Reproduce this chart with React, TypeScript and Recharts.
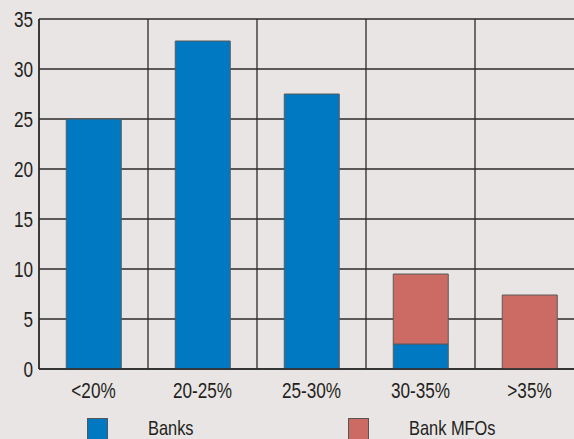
import React from 'react';
import { BarChart, Bar, XAxis, YAxis, CartesianGrid, Legend } from 'recharts';

const categories = ['<20%', '20-25%', '25-30%', '30-35%', '>35%'];
const banks = [25, 32.8, 27.5, 2.5, 0];
const bankMFOs = [0, 0, 0, 7.0, 7.4];
const yTicks = [0, 5, 10, 15, 20, 25, 30, 35];
const seriesNames = ['Banks', 'Bank MFOs'];

const data = categories.map((c, i) => ({ cat: c, banks: banks[i], mfos: bankMFOs[i] }));

const FONT = '"Liberation Sans", Arial, sans-serif';
const TEXT = '#231f20';
const BLUE = '#0079c2';
const RED = '#cc6b64';
const SX = 0.78;

const legendPos = [{ sq: 87, tx: 148 }, { sq: 348, tx: 409 }];

const XTick = (props: any) => {
  const { x, y, payload } = props;
  return (
    <g transform={`translate(${x},${y})`}>
      <text transform={`scale(${SX},1)`} x={0} y={0} dy="0.71em" textAnchor="middle" fill={TEXT} fontSize={22} fontFamily={FONT}>
        {payload.value}
      </text>
    </g>
  );
};

const YTick = (props: any) => {
  const { x, y, payload } = props;
  return (
    <g transform={`translate(${x},${y})`}>
      <text transform={`scale(${SX},1)`} x={0} y={0} dy="0.36em" textAnchor="end" fill={TEXT} fontSize={22} fontFamily={FONT}>
        {payload.value}
      </text>
    </g>
  );
};

const renderLegend = (props: any) => {
  const payload = [...(props.payload || [])].sort(
    (a: any, b: any) => seriesNames.indexOf(a.value) - seriesNames.indexOf(b.value)
  );
  return (
    <div style={{ position: 'relative', height: 20, width: 600 }}>
      {payload.map((p: any, i: number) => (
        <React.Fragment key={i}>
          <div
            style={{
              position: 'absolute',
              left: legendPos[i].sq,
              top: 0,
              width: 19,
              height: 22,
              background: p.color,
              border: '1px solid #555',
            }}
          />
          <div
            style={{
              position: 'absolute',
              left: legendPos[i].tx,
              top: 0,
              height: 20,
              fontFamily: FONT,
              fontSize: 21,
              color: TEXT,
              lineHeight: '20px',
              whiteSpace: 'nowrap',
              transform: `scaleX(${SX})`,
              transformOrigin: 'left center',
            }}
          >
            {p.value}
          </div>
        </React.Fragment>
      ))}
    </div>
  );
};

export default function App() {
  return (
    <div style={{ position: 'fixed', left: 0, top: 0, width: 574, height: 439, overflow: 'hidden', background: '#e9e5e4' }}>
      <BarChart
        width={600}
        height={439}
        data={data}
        margin={{ top: 19, right: 16, left: 0, bottom: 0 }}
        barCategoryGap="25%"
      >
        <CartesianGrid
          stroke="#2a2a2a"
          strokeWidth={1.3}
          verticalCoordinatesGenerator={({ offset }: any) =>
            categories.map((_, i) => offset.left + (i * offset.width) / categories.length).concat([offset.left + offset.width])
          }
        />
        <XAxis
          dataKey="cat"
          tickLine={false}
          tickSize={9}
          tickMargin={4}
          height={50}
          axisLine={{ stroke: '#2a2a2a', strokeWidth: 1.5 }}
          tick={<XTick />}
        />
        <YAxis
          width={39}
          domain={[0, 35]}
          ticks={yTicks}
          interval={0}
          tickLine={false}
          tickSize={4}
          tickMargin={2}
          axisLine={{ stroke: '#2a2a2a', strokeWidth: 1.5 }}
          tick={<YTick />}
        />
        <Legend
          content={renderLegend}
          wrapperStyle={{ position: 'absolute', left: 0, top: 418, width: 600, height: 20 }}
        />
        <Bar dataKey="banks" name={seriesNames[0]} stackId="a" fill={BLUE} stroke="#5a5a5a" strokeWidth={1} isAnimationActive={false} />
        <Bar dataKey="mfos" name={seriesNames[1]} stackId="a" fill={RED} stroke="#5a5a5a" strokeWidth={1} isAnimationActive={false} />
      </BarChart>
    </div>
  );
}
